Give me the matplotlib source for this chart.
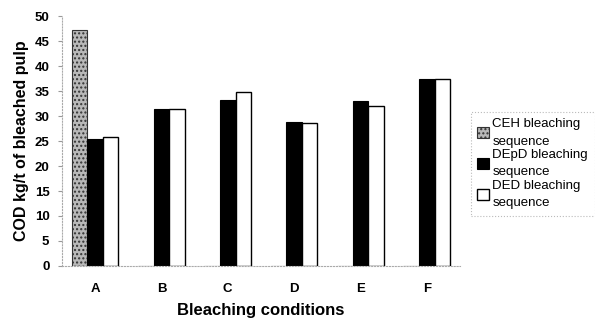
import matplotlib
matplotlib.use("Agg")
import matplotlib.pyplot as plt
import numpy as np

plt.rcParams['font.family'] = ['Liberation Sans', 'DejaVu Sans']
plt.rcParams['hatch.color'] = '#666666'

categories = ['A', 'B', 'C', 'D', 'E', 'F']
ceh = [47.2, 0, 0, 0, 0, 0]
depd = [25.5, 31.4, 33.3, 28.8, 33.1, 37.4]
ded = [25.8, 31.5, 34.9, 28.6, 32.1, 37.5]
labels = ['CEH bleaching\nsequence', 'DEpD bleaching\nsequence', 'DED bleaching\nsequence']

fig = plt.figure(figsize=(5.95, 3.22), dpi=100)
ax = fig.add_axes([0.104, 0.174, 0.669, 0.776])

x = np.arange(len(categories))
w = 0.235
ax.bar(x - w, ceh, w, color='#b8b8b8', edgecolor='#333333', linewidth=0.8, hatch='....', label=labels[0])
ax.bar(x, depd, w, color='black', edgecolor='black', linewidth=0.8, label=labels[1])
ax.bar(x + w, ded, w, color='white', edgecolor='black', linewidth=1.0, label=labels[2])

ax.set_xlim(-0.5, 5.5)
ax.set_ylim(0, 50)
ax.set_yticks(range(0, 51, 5))
ax.set_xticks(x)
ax.set_xticklabels(categories, fontweight='bold', fontsize=9.5)
for t in ax.get_yticklabels():
    t.set_fontweight('bold'); t.set_fontsize(9.5)
ax.tick_params(axis='y', length=3, color='#999999', pad=6)
ax.tick_params(axis='x', length=0, pad=12)
for s in ['top', 'right']:
    ax.spines[s].set_visible(False)
for s in ['left', 'bottom']:
    ax.spines[s].set_color('#aaaaaa')
    ax.spines[s].set_linestyle(':')
    ax.spines[s].set_linewidth(0.8)

ax.set_ylabel('COD kg/t of bleached pulp', fontweight='bold', fontsize=11.5, labelpad=4)
ax.set_xlabel('Bleaching conditions', fontweight='bold', fontsize=12, labelpad=6)

leg = ax.legend(loc='center left', bbox_to_anchor=(1.01, 0.41), fontsize=9.5,
                frameon=True, fancybox=False, handlelength=0.9, handleheight=0.9,
                handletextpad=0.25, borderpad=0.5, labelspacing=0.1)
for t in leg.get_texts():
    t.set_linespacing(1.6)
leg.get_frame().set_edgecolor('#aaaaaa')
leg.get_frame().set_linestyle(':')
leg.get_frame().set_linewidth(0.8)

fig.savefig('out.png', dpi=100)
